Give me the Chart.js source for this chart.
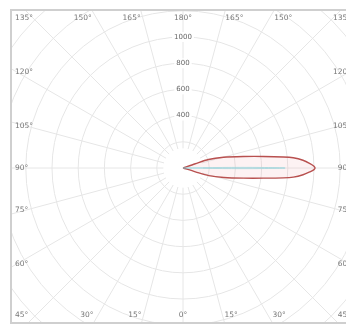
<!DOCTYPE html>
<html><head><meta charset="utf-8">
<script src="https://cdn.jsdelivr.net/npm/chart.js@4/dist/chart.umd.min.js"></script>
<style>
html,body{margin:0;padding:0;background:#fff;overflow:hidden;width:346px;height:326px;}
#wrap{width:358px;height:326px;position:relative;}
</style>
</head><body><div id="wrap"><canvas id="c"></canvas></div>
<script>
// C0-C180 plane: angle gamma from nadir (deg) and luminous intensity (cd)
const lobeGamma = [90, 109.2, 108.5, 104.8, 100.8, 98.2, 96.3, 95.3, 93.7, 92.0, 90.8, 90, 89.3, 88.3, 86.8, 85.3, 84.4, 82.8, 80.5, 77.0, 73.6, 73.0, 90];
const lobeCd    = [0,  99,    205,   320,   469,   619,  770,  845,  918,  970,  1000, 1008, 1000, 970,  918,  845,  770,  619,  469,  320,  205,  99,   0];
// C90-C270 plane (faint)
const c90Gamma = [90, 90.8, 90.4, 90, 89.6, 89.2, 90];
const c90Cd    = [0,  300,  600,  780, 600,  300,  0];
// grid
const ringValues = [200, 400, 600, 800, 1000, 1200, 1400, 1600, 1800];
const ringLabels = [400, 600, 800, 1000];
const angleTicks = [0, 15, 30, 45, 60, 75, 90, 105, 120, 135, 150, 165, 180];

function toXY(g, cd) {
  return g.map((a, i) => {
    const r = a * Math.PI / 180;
    return { x: cd[i] * Math.sin(r), y: -cd[i] * Math.cos(r) };
  });
}

const polarGrid = {
  id: 'polarGrid',
  beforeDatasetsDraw(chart) {
    const { ctx, chartArea: ca, scales: { x, y } } = chart;
    const cx = x.getPixelForValue(0), cy = y.getPixelForValue(0);
    const k = x.getPixelForValue(1000) - cx;
    ctx.save();
    ctx.beginPath(); ctx.rect(ca.left, ca.top, ca.right - ca.left, ca.bottom - ca.top); ctx.clip();
    ctx.strokeStyle = '#e6e6e6'; ctx.lineWidth = 1;
    ringValues.forEach(v => {
      ctx.beginPath(); ctx.arc(cx, cy, v * k / 1000, 0, Math.PI * 2); ctx.stroke();
    });
    const r0 = 150 * k / 1000, r1 = 3000 * k / 1000;
    for (let a = 0; a < 360; a += 15) {
      const t = a * Math.PI / 180;
      ctx.beginPath();
      ctx.moveTo(cx + r0 * Math.sin(t), cy + r0 * Math.cos(t));
      ctx.lineTo(cx + r1 * Math.sin(t), cy + r1 * Math.cos(t));
      ctx.stroke();
    }
    ctx.restore();
  },
  afterDatasetsDraw(chart) {
    const { ctx, chartArea: ca, scales: { x, y } } = chart;
    const cx = x.getPixelForValue(0), cy = y.getPixelForValue(0);
    const k = x.getPixelForValue(1000) - cx;
    ctx.save();
    ctx.font = '7px "DejaVu Sans", sans-serif';
    ctx.textAlign = 'center'; ctx.textBaseline = 'middle';
    ringLabels.forEach(v => {
      const py = cy - v * k / 1000;
      const w = ctx.measureText(String(v)).width;
      ctx.fillStyle = '#fff'; ctx.fillRect(cx - w / 2 - 2, py - 5, w + 4, 10);
      ctx.fillStyle = '#666'; ctx.fillText(String(v), cx, py);
    });
    ctx.strokeStyle = '#cfcfcf'; ctx.lineWidth = 2;
    ctx.strokeRect(ca.left, ca.top, ca.right - ca.left, ca.bottom - ca.top);
    ctx.font = '7.5px "DejaVu Sans", sans-serif';
    ctx.fillStyle = '#777';
    const pad = 4;
    angleTicks.forEach(g => {
      [-1, 1].forEach(side => {
        if ((g === 0 || g === 180) && side === -1) return;
        const t = g * Math.PI / 180;
        const dx = side * Math.sin(t), dy = Math.cos(t);
        const txt = g + '°';
        if (g === 45 || g === 135) {
          ctx.textAlign = side < 0 ? 'left' : 'right';
          ctx.textBaseline = g === 45 ? 'bottom' : 'top';
          ctx.fillText(txt, side < 0 ? ca.left + pad : ca.right - pad, g === 45 ? ca.bottom - pad : ca.top + pad);
          return;
        }
        const tx = dx > 1e-6 ? (ca.right - cx) / dx : dx < -1e-6 ? (ca.left - cx) / dx : Infinity;
        const ty = dy > 1e-6 ? (ca.bottom - cy) / dy : dy < -1e-6 ? (ca.top - cy) / dy : Infinity;
        if (ty < tx) {
          const px = cx + dx * ty;
          ctx.textAlign = Math.abs(dx) < 1e-6 ? 'center' : (dx < 0 ? 'right' : 'left');
          ctx.textBaseline = dy > 0 ? 'bottom' : 'top';
          ctx.fillText(txt, px, dy > 0 ? ca.bottom - pad : ca.top + pad);
        } else {
          const py = cy + dy * tx;
          ctx.textAlign = dx < 0 ? 'left' : 'right';
          ctx.textBaseline = Math.abs(dy) < 1e-6 ? 'middle' : (dy < 0 ? 'top' : 'bottom');
          ctx.fillText(txt, dx < 0 ? ca.left + pad : ca.right - pad, py);
        }
      });
    });
    ctx.restore();
  }
};

new Chart(document.getElementById('c'), {
  type: 'scatter',
  data: {
    datasets: [
      { data: toXY(c90Gamma, c90Cd), showLine: true, borderColor: 'rgba(120,205,215,0.55)', borderWidth: 1, pointRadius: 0, fill: false, tension: 0.3 },
      { data: toXY(lobeGamma, lobeCd), showLine: true, borderColor: '#b8504f', borderWidth: 1.4, pointRadius: 0, backgroundColor: 'rgba(240,150,160,0.12)', fill: 'shape', tension: 0.3 }
    ]
  },
  options: {
    responsive: true, maintainAspectRatio: false, animation: false,
    layout: { padding: { left: 11, top: 10, right: 3, bottom: 3 } },
    plugins: { legend: { display: false }, tooltip: { enabled: false } },
    scales: {
      x: { type: 'linear', min: -1313, max: 1313, display: false },
      y: { type: 'linear', min: -1183, max: 1206, display: false }
    }
  },
  plugins: [polarGrid]
});
</script>
</body></html>
